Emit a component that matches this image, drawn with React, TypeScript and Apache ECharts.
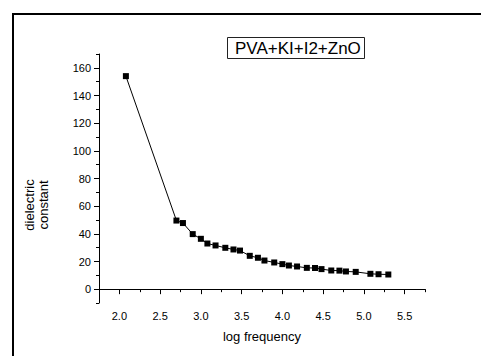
import React, { useEffect, useRef } from "react";
import * as echarts from "echarts";

const logFrequency = [2.08, 2.7, 2.78, 2.9, 3.0, 3.08, 3.18, 3.3, 3.4, 3.48, 3.6, 3.7, 3.78, 3.9, 4.0, 4.08, 4.18, 4.3, 4.4, 4.48, 4.6, 4.7, 4.78, 4.9, 5.08, 5.18, 5.3];
const dielectricConstant = [154, 49.6, 47.8, 39.8, 36.4, 33.0, 31.6, 29.9, 28.7, 27.9, 24.1, 22.7, 20.7, 19.3, 18.1, 17.1, 16.4, 15.4, 15.3, 14.5, 13.5, 13.4, 12.8, 12.5, 11.1, 10.8, 10.6];
const xTickLabels = [2.0, 2.5, 3.0, 3.5, 4.0, 4.5, 5.0, 5.5];
const yTickLabels = [0, 20, 40, 60, 80, 100, 120, 140, 160];
const titleText = "PVA+KI+I2+ZnO";
const xName = "log frequency";
const yName = "dielectric\nconstant";

const FONT = "'Liberation Sans', Arial, sans-serif";

export default function App() {
  const ref = useRef<HTMLDivElement>(null);
  useEffect(() => {
    if (!ref.current) return;
    const chart = echarts.init(ref.current, null, { renderer: "svg" });
    const axisLine = { show: true, lineStyle: { color: "#000", width: 1 } };
    chart.setOption({
      animation: false,
      backgroundColor: "#fff",
      textStyle: { fontFamily: FONT },
      title: {
        text: titleText,
        left: 227,
        top: 37,
        padding: [1, 4, 1, 8],
        borderColor: "#222",
        borderWidth: 1,
        textStyle: { fontSize: 17, fontWeight: "normal", color: "#000", fontFamily: FONT, lineHeight: 20 },
      },
      grid: { left: 99, right: 56, top: 54, bottom: 53, containLabel: false },
      xAxis: [
        {
          type: "value",
          min: 1.75,
          max: 5.75,
          interval: 0.25,
          position: "bottom",
          axisLine,
          axisTick: { show: true, length: 3, lineStyle: { color: "#000" } },
          axisLabel: { show: false },
          splitLine: { show: false },
          name: xName,
          nameLocation: "middle",
          nameGap: 27,
          nameTextStyle: { fontSize: 13, color: "#000", fontFamily: FONT },
        },
        {
          type: "value",
          min: 1.75,
          max: 5.75,
          position: "bottom",
          axisLine: { show: false },
          axisTick: { show: true, length: 5, customValues: xTickLabels, lineStyle: { color: "#000" } },
          axisLabel: {
            show: true,
            customValues: xTickLabels,
            formatter: (v: number) => v.toFixed(1),
            fontSize: 11,
            color: "#000",
            margin: 7,
            fontFamily: FONT,
          },
          splitLine: { show: false },
        },
      ],
      yAxis: [
        {
          type: "value",
          min: -10,
          max: 170,
          interval: 10,
          axisLine,
          axisTick: { show: true, length: 3, lineStyle: { color: "#000" } },
          axisLabel: { show: false },
          splitLine: { show: false },
        },
        {
          type: "value",
          min: -10,
          max: 170,
          position: "left",
          axisLine: { show: false },
          axisTick: { show: true, length: 5, customValues: yTickLabels, lineStyle: { color: "#000" } },
          axisLabel: { show: true, customValues: yTickLabels, fontSize: 11, color: "#000", margin: 8, fontFamily: FONT },
          splitLine: { show: false },
        },
      ],
      graphic: [
        { type: "line", shape: { x1: 12, y1: 14, x2: 481, y2: 14 }, style: { stroke: "#000", lineWidth: 2 } },
        { type: "line", shape: { x1: 13, y1: 13, x2: 13, y2: 356 }, style: { stroke: "#000", lineWidth: 2 } },
        {
          type: "text",
          x: 36.5,
          y: 205,
          rotation: Math.PI / 2,
          style: {
            text: yName,
            fontSize: 13,
            lineHeight: 14,
            fill: "#000",
            fontFamily: FONT,
            align: "center",
            verticalAlign: "middle",
          },
        },
      ],
      series: [
        {
          type: "line",
          xAxisIndex: 0,
          yAxisIndex: 0,
          data: logFrequency.map((x, i) => [x, dielectricConstant[i]]),
          symbol: "rect",
          symbolSize: 6,
          itemStyle: { color: "#000" },
          lineStyle: { color: "#000", width: 1 },
        },
      ],
    });
    return () => chart.dispose();
  }, []);
  return <div ref={ref} style={{ position: "fixed", left: 0, top: 0, width: 481, height: 356 }} />;
}
